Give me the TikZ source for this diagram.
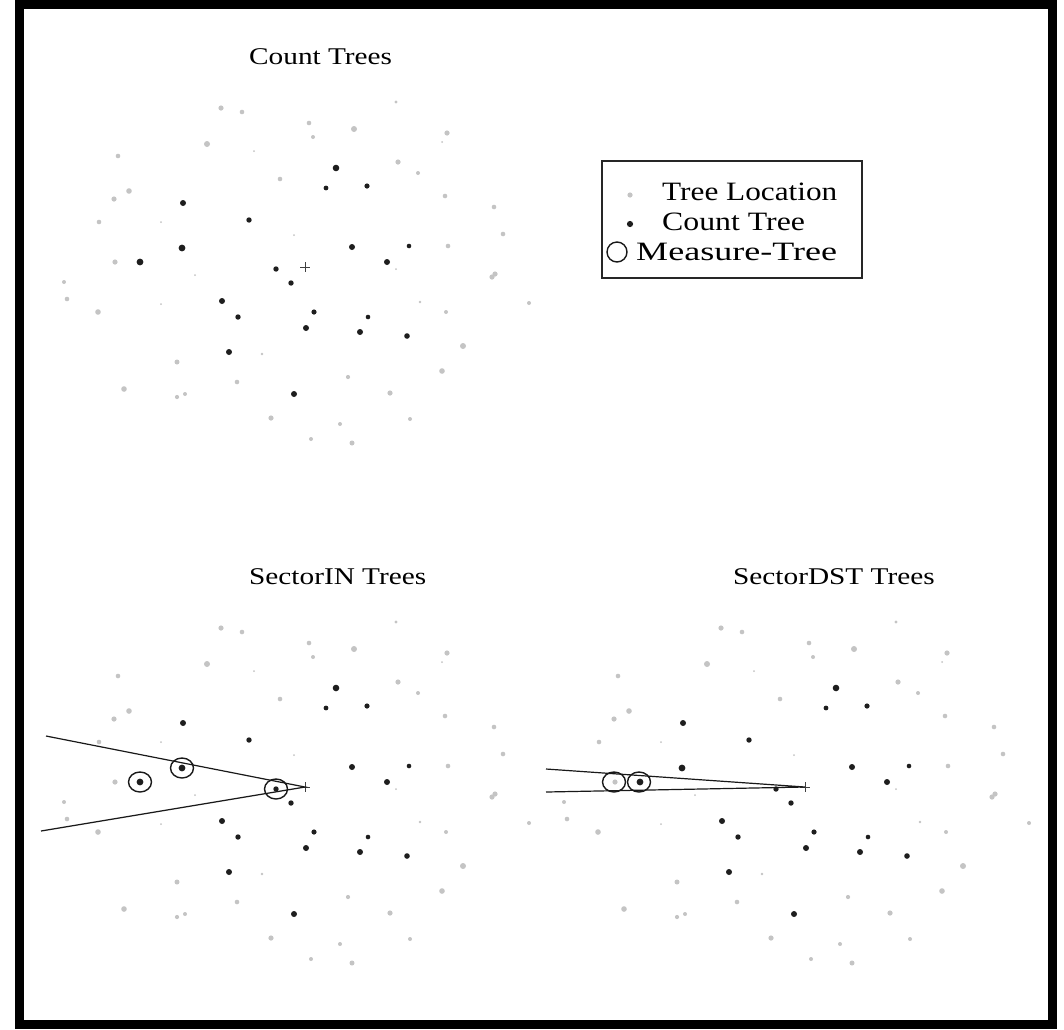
\documentclass[tikz,border=0pt]{standalone}
\usepackage{fontspec}
\usepackage{graphicx}
\usetikzlibrary{shapes.geometric}
\setmainfont{Liberation Serif}
\definecolor{treegray}{HTML}{C4C4C4}
\definecolor{treeblack}{HTML}{1E1E1E}
\newcommand\titlefont{\fontsize{24}{28}\selectfont}
\newcommand\legfont{\fontsize{26.5}{30}\selectfont}
\newcommand\wide[2][1.22]{\scalebox{#1}[1]{#2}}
\newcommand\treedots{%
  \foreach \px/\py/\pr in {221/108/2.6, 242/112/2.3, 207/144/3, 254/151/1, 118/156/2.3, 280/179/2.3,
     129/191/2.8, 114/199/2.6, 99/222/2.3, 161/222/1, 294/235/1, 115/262/2.6, 195/275/1,
     396/102/1.6, 309/123/2.3, 354/129/3, 447/133/2.6, 313/137/2, 442/142/1, 398/162/2.6,
     418/173/2, 445/196/2.3, 494/207/2.3, 503/234/2.3, 448/246/2.3, 396/269/1, 495/274/2.6,
     492/277/2.6, 64/282/2, 67/299/2.3, 161/304/1, 98/312/2.8, 262/354/1.3, 177/362/2.5,
     237/382/2.3, 124/389/2.8, 185/394/2, 177/397/2.1, 271/418/2.6, 420/302/1.3, 529/303/2,
     446/312/2, 463/346/3, 442/371/2.8, 348/377/2.1, 390/393/2.6, 340/424/2, 410/419/2,
     311/439/2, 352/443/2.5}
    {\fill[treegray] (\px,\py) circle[radius=\pr pt];}
  \foreach \px/\py/\pr in {183/203/3, 249/220/2.7, 182/248/3.4, 140/262/3.4, 276/269/2.7,
     336/168/3.3, 326/188/2.4, 367/186/2.6, 352/247/3, 409/246/2.3, 387/262/3,
     291/283/2.7, 222/301/3, 238/317/2.7, 229/352/3, 294/394/3,
     314/312/2.6, 368/317/2.3, 306/328/3, 360/332/3, 407/336/2.8}
    {\fill[treeblack] (\px,\py) circle[radius=\pr pt];}
  \draw[black!75, line width=0.7pt] (300,267) -- (310,267) (305,262) -- (305,272);
}
\begin{document}
\begin{tikzpicture}[x=1pt,y=-1pt,
  frame/.style={line width=9pt, draw=black},
  sector/.style={line width=1.2pt, draw=black!90},
  measure/.style={ellipse, line width=1.4pt, draw=black!90, fill=none,
                  minimum width=23pt, minimum height=20pt, inner sep=0pt},
  title/.style={anchor=base west, inner sep=0pt, font=\titlefont},
  legtext/.style={anchor=base west, inner sep=0pt, font=\legfont}]
\useasboundingbox (0,0) rectangle (1064,1029);
\fill[white] (0,0) rectangle (1064,1029);
\draw[frame] (19.5,4.5) rectangle (1052.5,1024.5);

% panels
\begin{scope}\treedots\end{scope}
\begin{scope}[shift={(0,520)}]\treedots\end{scope}
\begin{scope}[shift={(500,520)}]\treedots\end{scope}

% titles
\node[title] (tcount) at (249,64) {\wide{Count Trees}};
\node[title] (tin) at (249,584) {\wide{SectorIN Trees}};
\node[title] (tdst) at (733,584) {\wide{SectorDST Trees}};

% sector IN
\coordinate (cin) at (305,787);
\coordinate (inA) at (46,736);
\coordinate (inB) at (41,831);
\draw[sector] (inA) -- (cin) -- (inB);
\node[measure] (m1) at (182,768) {};
\node[measure] (m2) at (140,782) {};
\node[measure] (m3) at (276,789) {};

% sector DST
\coordinate (cdst) at (805,787);
\coordinate (dA) at (546,769);
\coordinate (dB) at (546,792);
\draw[sector] (dA) -- (cdst) -- (dB);
\node[measure] (m4) at (614,782) {};
\node[measure] (m5) at (639,782) {};

% legend
\node[draw=black!85, line width=1.5pt, minimum width=260pt, minimum height=117pt, anchor=north west] (legend) at (601,160) {};
\fill[treegray] (630,195) circle[radius=2.6pt];
\fill[treeblack] (630,224) circle[radius=3.1pt];
\node[circle, line width=1.4pt, draw=black!90, minimum size=20pt, inner sep=0pt] (legc) at (617,252) {};
\node[legtext] (l1) at (662,200) {\wide[1.18]{Tree Location}};
\node[legtext] (l2) at (662,230) {\wide[1.2]{Count Tree}};
\node[legtext] (l3) at (636,260) {\wide[1.36]{Measure-Tree}};
\end{tikzpicture}
\end{document}
